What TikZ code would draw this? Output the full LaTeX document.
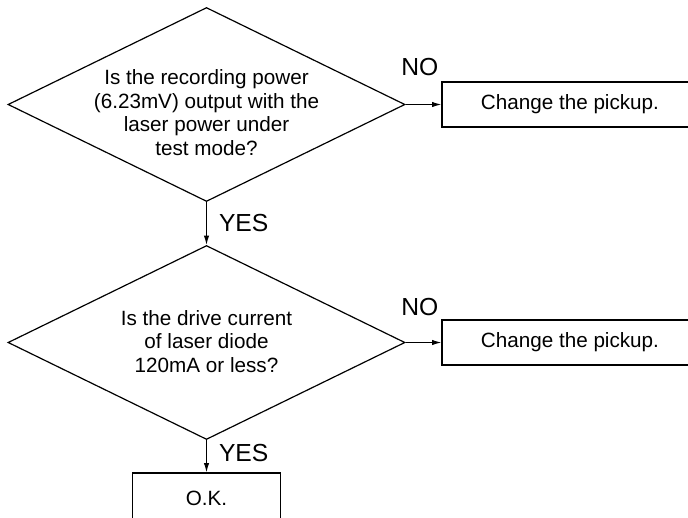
\documentclass[tikz,border=0pt]{standalone}
\usepackage{fontspec}
\setmainfont{Liberation Sans}
\usetikzlibrary{shapes.geometric, positioning, arrows.meta}

\begin{document}
\begin{tikzpicture}[
    x = 0.75pt,
    y = -0.75pt,
    on grid,
    question/.style = {
        diamond,
        draw = black,
        line width = 0.9pt,
        inner sep = 0pt,
        shape aspect = 2.05,
        minimum width = 297.75pt,
        minimum height = 145.5pt,
        font = \fontsize{15.5pt}{17.6pt}\selectfont
    },
    action/.style = {
        rectangle,
        draw = black,
        line width = 0.9pt,
        minimum width = 192pt,
        minimum height = 33.75pt,
        text centered,
        font = \fontsize{15.5pt}{17.6pt}\selectfont
    },
    arrow/.style = {
        -{Latex[length = 7pt, width = 4pt]},
        line width = 0.75pt
    },
    answer/.style = {
        inner sep = 0pt,
        font = \fontsize{18.5pt}{20pt}\selectfont
    }
]

    % Page frame
    \useasboundingbox (0,0) rectangle (688,517);
    \clip (0,0) rectangle (688,517);

    % Decisions (left column)
    \node [question] (q1) at (206.5,104.5) {\raisebox{-11.6pt}[0pt][0pt]{\begin{tabular}{@{}c@{}}Is the recording power\\(6.23mV) output with the\\laser power under\\test mode?\end{tabular}}};
    \node [question, below = 178.5pt of q1] (q2) {\raisebox{-4.9pt}[0pt][0pt]{\begin{tabular}{@{}c@{}}Is the drive current\\of laser diode\\120mA or less?\end{tabular}}};

    % Actions
    \node [action, right = 272.6pt of q1] (c1) {Change the pickup.};
    \node [action, right = 272.6pt of q2] (c2) {Change the pickup.};
    \node [action, minimum width = 111pt, minimum height = 37.5pt, below = 116.6pt of q2] (ok) {O.K.};

    % NO branches
    \draw [arrow] (q1.east) -- node [answer, above = 21pt, pos = 0.4] {NO} (c1.west);
    \draw [arrow] (q2.east) -- node [answer, above = 20pt, pos = 0.4] {NO} (c2.west);

    % YES branches
    \draw [arrow] (q1.south) -- node [answer, right = 9pt] {YES} (q2.north);
    \draw [arrow] (q2.south) -- node [answer, right = 9pt, pos = 0.4] {YES} (ok.north);

\end{tikzpicture}
\end{document}
